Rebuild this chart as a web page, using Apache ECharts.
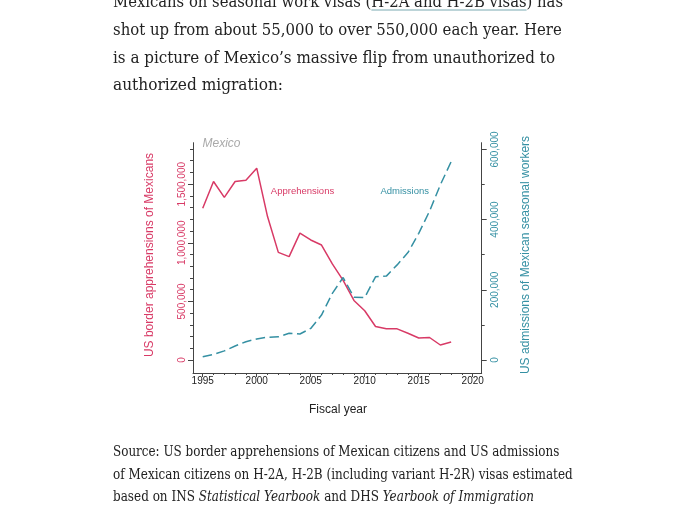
<!DOCTYPE html>
<html>
<head>
<meta charset="utf-8">
<script src="https://cdn.jsdelivr.net/npm/echarts@6/dist/echarts.min.js"></script>
<style>
  html, body { margin: 0; padding: 0; background: #fff; }
  body { width: 695px; height: 510px; overflow: hidden; position: relative; }
  #chart { position: absolute; left: 0; top: 0; width: 695px; height: 510px; }
  .ln { position: absolute; left: 113px; white-space: nowrap; color: #222;
        font-family: "DejaVu Serif", serif; transform-origin: 0 0; z-index: 2; }
  .body { font-size: 16px; line-height: 20px; }
  .cap { font-size: 14.5px; line-height: 18px; }
  .ul { text-decoration: underline; text-decoration-color: #bcd4d8;
        text-decoration-thickness: 1.5px; text-underline-offset: 2px; }
</style>
</head>
<body>
<div id="chart"></div>
<div class="ln body" data-w="450" style="top:-8px">Mexicans on seasonal work visas (<span class="ul">H-2A and H-2B visas</span>) has</div>
<div class="ln body" data-w="448.7" style="top:19.5px">shot up from about 55,000 to over 550,000 each year. Here</div>
<div class="ln body" data-w="442" style="top:47.5px">is a picture of Mexico’s massive flip from unauthorized to</div>
<div class="ln body" data-w="170" style="top:74.5px">authorized migration:</div>
<div class="ln cap" data-w="446.3" style="top:442px">Source: US border apprehensions of Mexican citizens and US admissions</div>
<div class="ln cap" data-w="459.7" style="top:464.5px">of Mexican citizens on H-2A, H-2B (including variant H-2R) visas estimated</div>
<div class="ln cap" data-w="421" style="top:487px">based on INS <i>Statistical Yearbook</i> and DHS <i>Yearbook of Immigration</i></div>
<script>
// ---- data ----
const years = [1995, 1996, 1997, 1998, 1999, 2000, 2001, 2002, 2003, 2004, 2005, 2006,
               2007, 2008, 2009, 2010, 2011, 2012, 2013, 2014, 2015, 2016, 2017, 2018];
const apprehensions = [1294000, 1523000, 1387000, 1523000, 1534000, 1637000, 1224000, 918000,
                       882000, 1083000, 1024000, 981000, 820000, 680000, 508000, 420000,
                       286000, 266000, 266000, 228000, 188000, 192000, 128000, 153000];
const admissions = [9000, 16000, 26000, 40000, 52000, 60000, 65000, 66000, 76000, 74000,
                    90000, 128000, 190000, 235000, 179000, 178000, 237000, 239000, 271000,
                    306000, 361000, 424000, 499000, 565000];
const leftTicks = [0, 500000, 1000000, 1500000];
const leftMinor = [100000, 200000, 300000, 400000, 600000, 700000, 800000, 900000, 1100000,
                   1200000, 1300000, 1400000, 1600000, 1700000, 1800000];
const rightTicks = [0, 200000, 400000, 600000];
const rightMinor = [100000, 300000, 500000];
const xTicks = [1995, 2000, 2005, 2010, 2015, 2020];
const xMinor = [1996, 1997, 1998, 1999, 2001, 2002, 2003, 2004, 2006, 2007, 2008, 2009,
                2011, 2012, 2013, 2014, 2016, 2017, 2018, 2019];
const labels = { title: 'Mexico', s1: 'Apprehensions', s2: 'Admissions', x: 'Fiscal year',
  yl: 'US border apprehensions of Mexicans', yr: 'US admissions of Mexican seasonal workers' };

const RED = '#d83a66', TEAL = '#3590a3', AX = '#444';
const FONT = '"Liberation Sans", Arial, sans-serif';
const fmt = v => Number(v).toLocaleString('en-US');

const chart = echarts.init(document.getElementById('chart'), null, { renderer: 'canvas' });
const axLine = { show: true, onZero: false, lineStyle: { color: AX, width: 1 } };
const noLine = { show: false, onZero: false };

chart.setOption({
  animation: false,
  backgroundColor: '#fff',
  textStyle: { fontFamily: FONT },
  grid: { left: 193, right: 213.3, top: 142.7, bottom: 137, containLabel: false },
  xAxis: [
    { type: 'value', min: 1994.1, max: 2020.83, position: 'bottom', axisLine: axLine,
      splitLine: { show: false },
      axisTick: { show: true, length: 4, lineStyle: { color: AX }, customValues: xTicks },
      axisLabel: { show: true, customValues: xTicks, fontSize: 10, color: '#222', margin: 3,
                   fontFamily: FONT, formatter: v => String(v) } },
    { type: 'value', min: 1994.1, max: 2020.83, position: 'bottom', offset: 0, axisLine: noLine,
      splitLine: { show: false },
      axisTick: { show: true, length: 2, lineStyle: { color: AX }, customValues: xMinor },
      axisLabel: { show: false } }
  ],
  yAxis: [
    { type: 'value', position: 'left', offset: 0, min: -110900, max: 1854000, axisLine: axLine,
      splitLine: { show: false },
      axisTick: { show: true, length: 5, lineStyle: { color: AX }, customValues: leftTicks },
      axisLabel: { show: true, customValues: leftTicks, rotate: 90, fontSize: 10, color: RED,
                   margin: 6, fontFamily: FONT, formatter: fmt } },
    { type: 'value', position: 'left', offset: 0, min: -110900, max: 1854000, axisLine: noLine,
      splitLine: { show: false },
      axisTick: { show: true, length: 3, lineStyle: { color: AX }, customValues: leftMinor },
      axisLabel: { show: false } },
    { type: 'value', position: 'right', offset: 0, min: -37000, max: 619100, axisLine: axLine,
      splitLine: { show: false },
      axisTick: { show: true, length: 5, lineStyle: { color: AX }, customValues: rightTicks },
      axisLabel: { show: true, customValues: rightTicks, rotate: 90, fontSize: 10, color: TEAL,
                   margin: 9, fontFamily: FONT, formatter: fmt } },
    { type: 'value', position: 'right', offset: 0, min: -37000, max: 619100, axisLine: noLine,
      splitLine: { show: false },
      axisTick: { show: true, length: 3, lineStyle: { color: AX }, customValues: rightMinor },
      axisLabel: { show: false } }
  ],
  series: [
    { name: labels.s1, type: 'line', xAxisIndex: 0, yAxisIndex: 0, symbol: 'none',
      lineStyle: { color: RED, width: 1.5 }, itemStyle: { color: RED },
      data: years.map((y, i) => [y, apprehensions[i]]) },
    { name: labels.s2, type: 'line', xAxisIndex: 0, yAxisIndex: 2, symbol: 'none',
      lineStyle: { color: TEAL, width: 1.5, type: [9.5, 4.5] }, itemStyle: { color: TEAL },
      data: years.map((y, i) => [y, admissions[i]]) }
  ],
  graphic: [
    { type: 'text', left: 202.5, top: 137.5, silent: true,
      style: { text: labels.title, fill: '#aaa', font: 'italic 12px ' + FONT } },
    { type: 'text', x: 302.5, y: 191, silent: true,
      style: { text: labels.s1, fill: RED, font: '9.5px ' + FONT, align: 'center', verticalAlign: 'middle' } },
    { type: 'text', x: 404.7, y: 191, silent: true,
      style: { text: labels.s2, fill: TEAL, font: '9.5px ' + FONT, align: 'center', verticalAlign: 'middle' } },
    { type: 'text', x: 338, y: 410, silent: true,
      style: { text: labels.x, fill: '#222', font: '12px ' + FONT, align: 'center', verticalAlign: 'middle' } },
    { type: 'text', x: 150, y: 255, rotation: Math.PI / 2, silent: true,
      style: { text: labels.yl, fill: RED, font: '12px ' + FONT, align: 'center', verticalAlign: 'middle' } },
    { type: 'text', x: 526, y: 255, rotation: Math.PI / 2, silent: true,
      style: { text: labels.yr, fill: TEAL, font: '12px ' + FONT, align: 'center', verticalAlign: 'middle' } }
  ]
});

function fitLines() {
  document.querySelectorAll('.ln').forEach(el => {
    el.style.transform = 'none';
    const w = el.getBoundingClientRect().width;
    const target = parseFloat(el.dataset.w);
    if (w > 0) el.style.transform = 'scaleX(' + (target / w) + ')';
  });
}
fitLines();
if (document.fonts && document.fonts.ready) document.fonts.ready.then(fitLines);
</script>
</body>
</html>
